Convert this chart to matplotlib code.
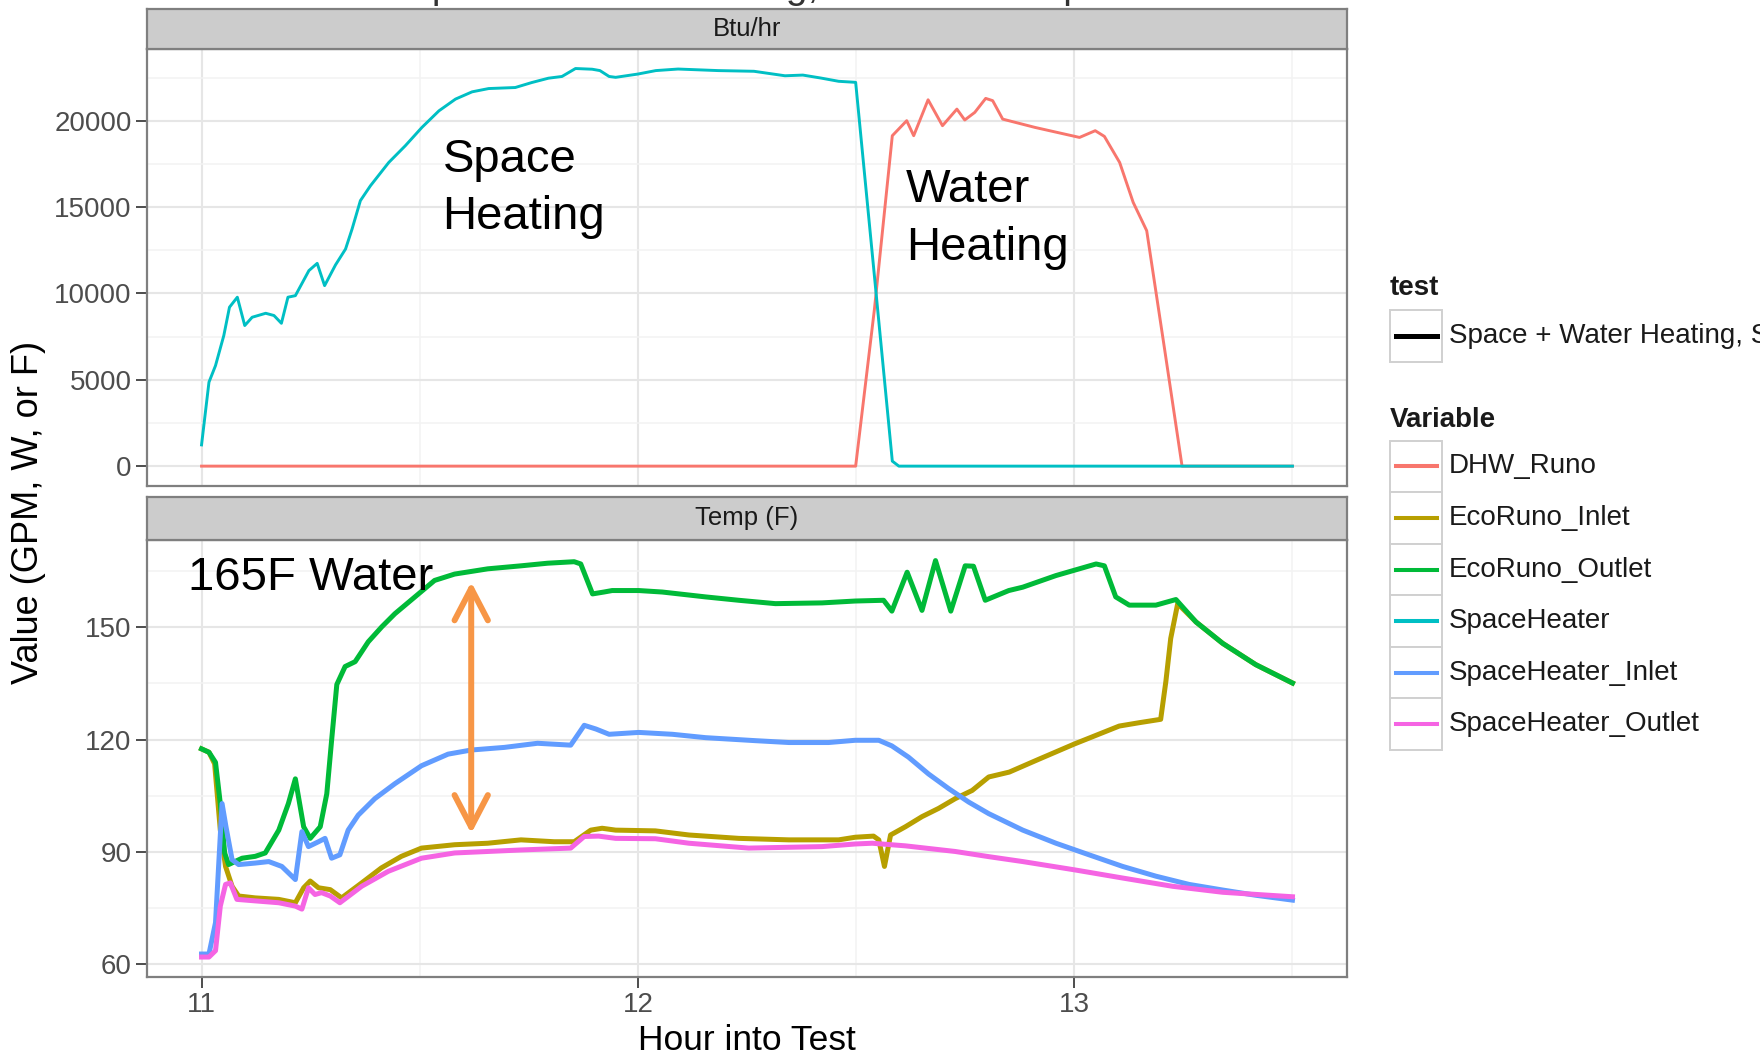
import matplotlib
matplotlib.use('Agg')
import matplotlib.pyplot as plt
from matplotlib.patches import Rectangle
from matplotlib.lines import Line2D
from matplotlib.ticker import FixedLocator

plt.rcParams['font.family'] = ['Liberation Sans', 'DejaVu Sans']

# ---------------- data ----------------
# Top panel (Btu/hr)
sh_hour = [11.0, 11.017, 11.032, 11.051, 11.064, 11.082, 11.099, 11.116, 11.147, 11.166, 11.183,
           11.198, 11.215, 11.246, 11.265, 11.282, 11.307, 11.33, 11.345, 11.364, 11.387, 11.429,
           11.467, 11.505, 11.544, 11.582, 11.62, 11.658, 11.719, 11.757, 11.795, 11.826, 11.857,
           11.895, 11.913, 11.934, 11.949, 12.0, 12.041, 12.092, 12.184, 12.266, 12.337, 12.378,
           12.419, 12.46, 12.499, 12.542, 12.583, 12.598, 13.5]
sh_btu = [1230, 4860, 5820, 7560, 9200, 9780, 8140, 8620, 8850, 8720, 8270,
          9780, 9870, 11320, 11740, 10450, 11650, 12570, 13730, 15370, 16230, 17580,
          18550, 19610, 20570, 21250, 21670, 21860, 21920, 22210, 22460, 22560, 23020,
          22980, 22900, 22560, 22510, 22700, 22900, 22990, 22900, 22860, 22600, 22640,
          22470, 22280, 22220, 11010, 290, 0, 0]

dhw_hour = [11.0, 12.499, 12.542, 12.583, 12.616, 12.632, 12.665, 12.698, 12.731, 12.749, 12.772,
            12.797, 12.813, 12.836, 12.91, 13.012, 13.048, 13.069, 13.104, 13.135, 13.166, 13.207,
            13.247, 13.5]
dhw_btu = [0, 0, 9080, 19130, 20000, 19130, 21210, 19710, 20670, 20040, 20480,
           21290, 21160, 20090, 19610, 19030, 19420, 19090, 17580, 15270, 13630, 6770,
           0, 0]

# Bottom panel (Temp F)
eo_hour = [11.0, 11.017, 11.032, 11.043, 11.053, 11.062, 11.093, 11.123, 11.146, 11.177, 11.199,
           11.215, 11.234, 11.249, 11.272, 11.287, 11.298, 11.31, 11.329, 11.352, 11.382, 11.413,
           11.443, 11.489, 11.534, 11.58, 11.656, 11.732, 11.793, 11.854, 11.869, 11.896, 11.922,
           11.941, 12.002, 12.056, 12.155, 12.231, 12.315, 12.422, 12.498, 12.563, 12.582, 12.617,
           12.651, 12.682, 12.717, 12.75, 12.769, 12.796, 12.85, 12.882, 12.958, 13.05, 13.069,
           13.095, 13.126, 13.187, 13.233, 13.279, 13.34, 13.416, 13.5]
eo_temp = [117.5, 116.6, 113.9, 102.9, 89.7, 86.6, 88.3, 88.8, 89.7, 95.8, 102.9,
           109.5, 96.7, 93.6, 96.7, 105.5, 119.7, 134.7, 139.5, 140.8, 146.1, 150.1,
           153.6, 158.1, 162.5, 164.2, 165.6, 166.4, 167.1, 167.5, 166.9, 158.9, 159.4,
           159.8, 159.8, 159.4, 158.1, 157.2, 156.3, 156.5, 157.0, 157.2, 154.3, 164.7,
           154.5, 167.8, 154.3, 166.4, 166.3, 157.2, 159.8, 160.7, 163.8, 166.9, 166.4,
           158.1, 155.9, 155.9, 157.4, 151.4, 145.7, 140.0, 135.1]

ei_hour = [11.0, 11.017, 11.03, 11.043, 11.055, 11.07, 11.085, 11.123, 11.177, 11.215, 11.234,
           11.249, 11.268, 11.295, 11.321, 11.367, 11.412, 11.458, 11.504, 11.58, 11.656, 11.732,
           11.808, 11.854, 11.892, 11.918, 11.949, 12.04, 12.117, 12.231, 12.346, 12.46, 12.498,
           12.54, 12.552, 12.565, 12.579, 12.613, 12.651, 12.689, 12.727, 12.766, 12.804, 12.851,
           12.92, 13.0, 13.103, 13.149, 13.198, 13.21, 13.221, 13.237, 13.279, 13.34, 13.416, 13.5]
ei_temp = [117.5, 116.6, 113.5, 95.8, 86.1, 80.8, 78.2, 77.7, 77.3, 76.4, 80.4,
           82.2, 80.4, 79.9, 77.7, 81.7, 85.7, 88.8, 91.0, 91.9, 92.3, 93.2,
           92.7, 92.7, 95.8, 96.3, 95.8, 95.6, 94.5, 93.6, 93.2, 93.2, 93.9,
           94.2, 93.2, 86.1, 94.5, 96.7, 99.4, 101.6, 104.2, 106.4, 110.0, 111.3,
           114.8, 118.8, 123.6, 124.5, 125.4, 135.6, 147.0, 156.3, 151.4, 145.7, 140.0, 135.1]

si_hour = [11.0, 11.017, 11.032, 11.047, 11.056, 11.07, 11.085, 11.123, 11.154, 11.184, 11.215,
           11.23, 11.245, 11.268, 11.283, 11.298, 11.317, 11.336, 11.359, 11.397, 11.443, 11.504,
           11.565, 11.618, 11.694, 11.77, 11.846, 11.877, 11.904, 11.934, 12.002, 12.079, 12.155,
           12.269, 12.346, 12.437, 12.498, 12.552, 12.582, 12.62, 12.666, 12.712, 12.758, 12.804,
           12.882, 12.958, 13.034, 13.111, 13.187, 13.263, 13.34, 13.416, 13.5]
si_temp = [62.7, 62.7, 71.1, 102.9, 96.7, 87.9, 86.6, 87.0, 87.4, 86.1, 82.6,
           95.4, 91.4, 92.7, 93.6, 88.3, 89.2, 95.8, 99.8, 104.2, 108.2, 113.0,
           116.1, 117.2, 117.9, 119.0, 118.5, 123.8, 122.8, 121.4, 121.9, 121.4, 120.5,
           119.7, 119.2, 119.2, 119.8, 119.8, 118.3, 115.3, 110.8, 106.9, 103.3, 100.2,
           95.8, 92.3, 89.2, 86.1, 83.5, 81.3, 79.8, 78.4, 77.1]

so_hour = [11.0, 11.017, 11.032, 11.043, 11.055, 11.066, 11.081, 11.123, 11.177, 11.215, 11.23,
           11.245, 11.26, 11.275, 11.295, 11.317, 11.367, 11.428, 11.504, 11.58, 11.656, 11.732,
           11.846, 11.877, 11.91, 11.949, 12.04, 12.117, 12.254, 12.422, 12.498, 12.537, 12.613,
           12.727, 12.805, 12.882, 13.0, 13.111, 13.225, 13.34, 13.5]
so_temp = [61.9, 61.9, 63.6, 75.5, 81.3, 81.7, 77.3, 76.9, 76.4, 75.5, 74.7,
           80.4, 78.6, 79.1, 78.2, 76.4, 80.8, 84.8, 88.3, 89.7, 90.1, 90.5,
           91.0, 94.1, 94.2, 93.6, 93.5, 92.3, 91.0, 91.4, 92.1, 92.3, 91.6,
           90.1, 88.7, 87.4, 85.2, 83.0, 80.8, 79.2, 78.0]

variables = ['DHW_Runo', 'EcoRuno_Inlet', 'EcoRuno_Outlet', 'SpaceHeater',
             'SpaceHeater_Inlet', 'SpaceHeater_Outlet']
var_colors = ['#F8766D', '#B79F00', '#00BA38', '#00BFC4', '#619CFF', '#F564E3']
test_label = 'Space + Water Heating, Set Tank Temp'
strip_labels = ['Btu/hr', 'Temp (F)']
x_ticks = [11, 12, 13]
top_yticks = [0, 5000, 10000, 15000, 20000]
bot_yticks = [60, 90, 120, 150]

# ---------------- figure ----------------
W, H = 1760, 1059
fig = plt.figure(figsize=(W / 100, H / 100), dpi=100)


def fx(px):
    return px / W


def fy(py):
    return 1 - py / H


L, R = 147, 1347
ax_top = fig.add_axes([fx(L), fy(486), (R - L) / W, (486 - 49) / H])
ax_bot = fig.add_axes([fx(L), fy(976.5), (R - L) / W, (976.5 - 540) / H])
st_top = fig.add_axes([fx(L), fy(49), (R - L) / W, (49 - 9) / H])
st_bot = fig.add_axes([fx(L), fy(540), (R - L) / W, (540 - 497) / H])

BORDER = '#7f7f7f'
TICKC = '#4d4d4d'

for ax in (ax_top, ax_bot):
    ax.set_xlim(10.875, 13.625)
    ax.set_facecolor('white')
    ax.set_axisbelow(True)
    for s in ax.spines.values():
        s.set_color(BORDER)
        s.set_linewidth(1.6)
    ax.xaxis.set_major_locator(FixedLocator(x_ticks))
    ax.xaxis.set_minor_locator(FixedLocator([11.5, 12.5, 13.5]))
    ax.grid(which='major', color='#e6e6e6', lw=1.5)
    ax.grid(which='minor', color='#f3f3f3', lw=1.1)
    ax.tick_params(which='minor', length=0)
    ax.tick_params(which='major', length=8, width=1.4, color=TICKC, labelcolor=TICKC,
                   labelsize=20, pad=3)

ax_top.set_ylim(-1150, 24150)
ax_top.yaxis.set_major_locator(FixedLocator(top_yticks))
ax_top.yaxis.set_minor_locator(FixedLocator([2500, 7500, 12500, 17500, 22500]))
ax_top.tick_params(axis='x', which='both', length=0, labelbottom=False)

ax_bot.set_ylim(56.7, 173.3)
ax_bot.yaxis.set_major_locator(FixedLocator(bot_yticks))
ax_bot.yaxis.set_minor_locator(FixedLocator([75, 105, 135, 165]))
ax_bot.set_xticklabels([str(t) for t in x_ticks])

# top panel lines
ax_top.plot(dhw_hour, dhw_btu, color=var_colors[0], lw=2.1, solid_joinstyle='round')
ax_top.plot(sh_hour, sh_btu, color=var_colors[3], lw=2.1, solid_joinstyle='round')

# bottom panel lines
lw_b = 3.6
ax_bot.plot(ei_hour, ei_temp, color=var_colors[1], lw=lw_b, solid_joinstyle='round')
ax_bot.plot(eo_hour, eo_temp, color=var_colors[2], lw=lw_b, solid_joinstyle='round')
ax_bot.plot(si_hour, si_temp, color=var_colors[4], lw=lw_b, solid_joinstyle='round')
ax_bot.plot(so_hour, so_temp, color=var_colors[5], lw=lw_b, solid_joinstyle='round')

# strips
for st, lab in zip((st_top, st_bot), strip_labels):
    st.set_facecolor('#cccccc')
    st.set_xticks([])
    st.set_yticks([])
    for s in st.spines.values():
        s.set_color(BORDER)
        s.set_linewidth(1.6)
    st.text(0.5, 0.5, lab, ha='center', va='center', fontsize=18.5, color='#1a1a1a',
            transform=st.transAxes)

# annotations (baseline of the last line)
ax_top.text(11.552, 13710, 'Space\nHeating', fontsize=34, va='baseline', ha='left',
            linespacing=1.4, color='black')
ax_top.text(12.615, 11950, 'Water\nHeating', fontsize=34, va='baseline', ha='left',
            linespacing=1.4, color='black')
ax_bot.text(10.968, 160.0, '165F Water', fontsize=34, va='baseline', ha='left', color='black')
ax_bot.annotate('', xy=(11.618, 162.1), xytext=(11.618, 94.9),
                arrowprops=dict(arrowstyle='<->,head_length=2.3,head_width=1.2',
                                color='#F79646', lw=4.3, shrinkA=0, shrinkB=0))

# axis titles
fig.text(fx(747), fy(1041), 'Hour into Test', ha='center', va='center', fontsize=25.5)
fig.text(fx(29), fy(512), 'Value (GPM, W, or F)', ha='center', va='center', fontsize=26,
         rotation=90)

# title, cut off at the top edge as in the original
fig.text(fx(745), fy(-2), test_label, ha='center', va='baseline', fontsize=28, color='#333333')

# legends
KL, KR = 1390, 1441.7
fig.text(fx(KL), fy(288), 'test', fontsize=20, fontweight='bold', va='center', color='#1a1a1a')
fig.add_artist(Rectangle((fx(KL), fy(361.7)), (KR - KL) / W, (361.7 - 310) / H,
                         transform=fig.transFigure, facecolor='white', edgecolor='#d0d0d0',
                         lw=1.4))
fig.add_artist(Line2D([fx(1396), fx(1436.7)], [fy(336), fy(336)], transform=fig.transFigure,
                      color='black', lw=3.6))
fig.text(fx(1449), fy(336), test_label, fontsize=20, va='center', color='#1a1a1a')

fig.text(fx(KL), fy(420), 'Variable', fontsize=20, fontweight='bold', va='center',
         color='#1a1a1a')
key_top = 440.7
key_h = 51.55
for i, (name, col) in enumerate(zip(variables, var_colors)):
    t = key_top + i * key_h
    c = t + key_h / 2
    fig.add_artist(Rectangle((fx(KL), fy(t + key_h)), (KR - KL) / W, key_h / H,
                             transform=fig.transFigure, facecolor='white',
                             edgecolor='#d0d0d0', lw=1.4))
    fig.add_artist(Line2D([fx(1396), fx(1436.7)], [fy(c), fy(c)], transform=fig.transFigure,
                          color=col, lw=2.9))
    fig.text(fx(1449), fy(c), name, fontsize=20, va='center', color='#1a1a1a')

fig.savefig('out.png', dpi=100)
